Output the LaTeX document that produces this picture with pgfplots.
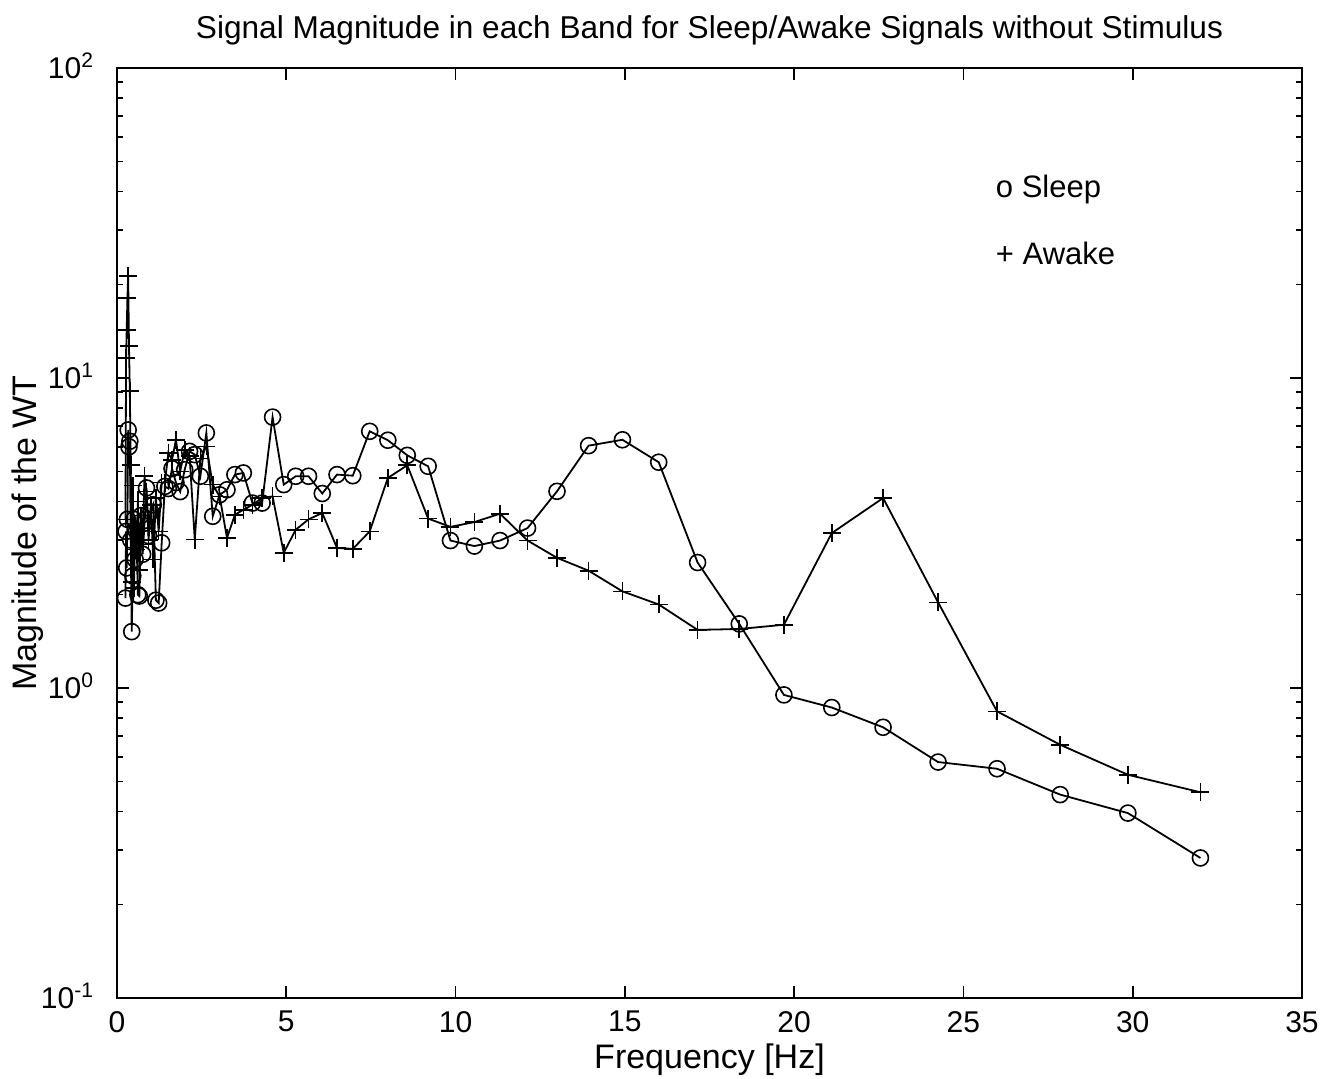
\documentclass[border=0pt]{standalone}
\usepackage{fontspec}
\setmainfont{Liberation Sans}
\usepackage{pgfplots}
\pgfplotsset{compat=1.18}
\begin{document}
\begin{tikzpicture}
\begin{axis}[
  scale only axis, width=592.5pt, height=465pt,
  xmin=0, xmax=35, ymode=log, ymin=0.1, ymax=100,
  xtick={0,5,...,35},
  ytick={0.1,1,10,100},
  yticklabels={10\smash{\textsuperscript{-1}},10\smash{\textsuperscript{0}},10\smash{\textsuperscript{1}},10\smash{\textsuperscript{2}}},
  /pgf/number format/assume math mode=true,
  tick align=inside, major tick length=6pt, minor tick length=3pt,
  xtick pos=both, ytick pos=both,
  axis line style={line width=1.1pt},
  every tick/.style={line width=0.8pt, black},
  tick label style={font=\fontsize{15}{18}\selectfont},
  xticklabel style={yshift=-3pt},
  yticklabel style={xshift=-8pt},
  label style={font=\fontsize{17}{20}\selectfont},
  title style={font=\fontsize{15.8}{19}\selectfont, yshift=2pt},
  title={Signal Magnitude in each Band for Sleep/Awake Signals without Stimulus},
  xlabel={Frequency [Hz]}, ylabel={Magnitude of the WT},
  xlabel style={yshift=1pt}, ylabel style={yshift=-8pt},
]
\addplot[black, line width=0.9pt, mark=o, mark size=4pt, mark options={line width=0.8pt}] coordinates {
(0.25,1.95)(0.268,3.2)(0.287,2.44)(0.308,3.5)(0.330,6.8)(0.354,6.0)(0.379,6.25)(0.406,3.0)(0.435,1.52)(0.467,2.3)(0.5,3.5)(0.536,2.6)(0.574,3.2)(0.616,2.0)(0.660,1.98)(0.707,3.6)(0.758,2.7)(0.812,3.4)(0.871,4.42)(0.933,3.1)(1.0,3.7)(1.072,3.9)(1.149,1.92)(1.231,1.88)(1.320,2.94)(1.414,4.47)(1.516,4.4)(1.625,5.1)(1.741,4.6)(1.866,4.3)(2.0,5.06)(2.144,5.80)(2.297,5.66)(2.462,4.82)(2.639,6.65)(2.828,3.58)(3.031,4.2)(3.249,4.36)(3.482,4.88)(3.732,4.94)(4.0,3.95)(4.287,3.95)(4.595,7.48)(4.925,4.53)(5.278,4.82)(5.657,4.82)(6.063,4.24)(6.498,4.88)(6.964,4.84)(7.464,6.73)(8.0,6.30)(8.574,5.63)(9.190,5.19)(9.849,2.99)(10.556,2.87)(11.314,2.99)(12.126,3.28)(12.996,4.31)(13.929,6.05)(14.929,6.32)(16.0,5.35)(17.148,2.54)(18.379,1.61)(19.698,0.95)(21.112,0.865)(22.627,0.747)(24.251,0.577)(25.992,0.549)(27.858,0.453)(29.857,0.395)(32,0.283)
};
\addplot[black, line width=0.9pt, mark=+, mark size=4.5pt, mark options={line width=0.8pt}] coordinates {
(0.25,3.5)(0.268,11.6)(0.287,14.3)(0.308,18.1)(0.330,21.3)(0.354,12.7)(0.379,9.06)(0.406,5.25)(0.435,2.2)(0.467,4.5)(0.5,2.1)(0.536,3.3)(0.574,2.8)(0.616,4.0)(0.660,2.4)(0.707,3.6)(0.758,2.9)(0.812,4.82)(0.871,4.3)(0.933,3.0)(1.0,3.9)(1.072,2.6)(1.149,4.1)(1.231,3.2)(1.320,4.6)(1.414,4.6)(1.516,5.73)(1.625,5.45)(1.741,6.32)(1.866,5.0)(2.0,5.87)(2.144,5.6)(2.297,3.01)(2.462,5.5)(2.639,6.02)(2.828,4.53)(3.031,4.15)(3.249,3.05)(3.482,3.62)(3.732,3.76)(4.0,3.9)(4.287,4.1)(4.595,4.15)(4.925,2.73)(5.278,3.24)(5.657,3.5)(6.063,3.67)(6.498,2.83)(6.964,2.81)(7.464,3.20)(8.0,4.76)(8.574,5.23)(9.190,3.52)(9.849,3.31)(10.556,3.43)(11.314,3.65)(12.126,2.99)(12.996,2.63)(13.929,2.39)(14.929,2.05)(16.0,1.86)(17.148,1.54)(18.379,1.55)(19.698,1.60)(21.112,3.16)(22.627,4.10)(24.251,1.89)(25.992,0.841)(27.858,0.656)(29.857,0.525)(32,0.461)
};
\node[anchor=west, font=\fontsize{15.5}{18}\selectfont, inner sep=0pt] at (axis cs:25.95,40.5) {o Sleep};
\node[anchor=west, font=\fontsize{15.5}{18}\selectfont, inner sep=0pt] at (axis cs:25.95,25.2) {+ Awake};
\coordinate (bl) at (rel axis cs:0,0);
\coordinate (tr) at (rel axis cs:1,1);
\end{axis}
\pgfresetboundingbox
\path ([shift={(-58.5pt,-40pt)}]bl) rectangle ([shift={(14pt,34pt)}]tr);
\end{tikzpicture}
\end{document}
